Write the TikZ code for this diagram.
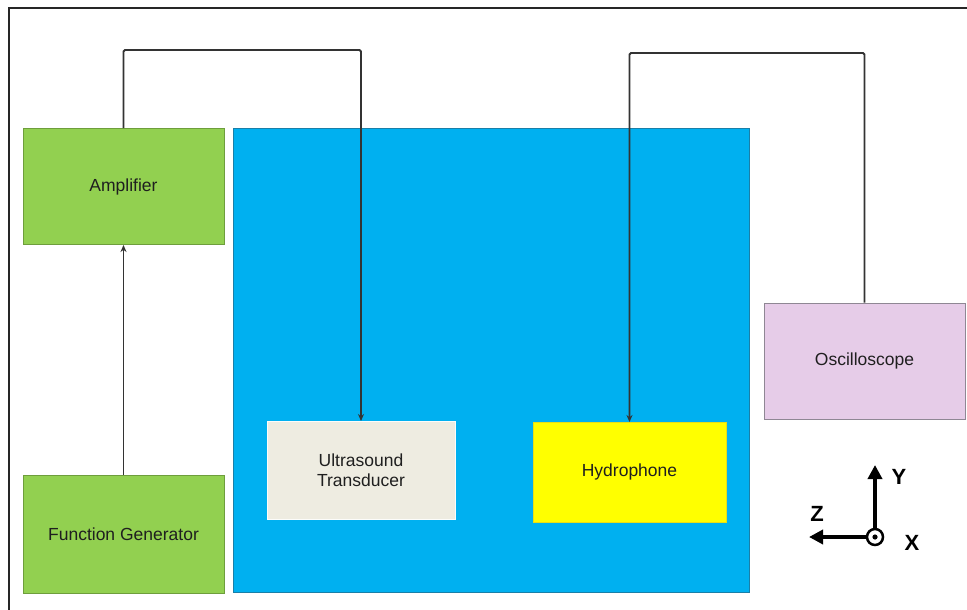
\documentclass[tikz,border=0pt]{standalone}
\usepackage{fontspec}
\setmainfont{Liberation Sans}
\usetikzlibrary{arrows.meta}
\definecolor{boxgreen}{HTML}{92D050}
\definecolor{boxgreenedge}{HTML}{6E9E3C}
\definecolor{tankblue}{HTML}{00B0F0}
\definecolor{tankedge}{HTML}{1A7FA8}
\definecolor{transfill}{HTML}{EEECE1}
\definecolor{hydfill}{HTML}{FFFF00}
\definecolor{oscfill}{HTML}{E6CCE8}
\definecolor{oscedge}{HTML}{8F8794}
\definecolor{wirecol}{HTML}{333333}
\begin{document}
\begin{tikzpicture}[x=1pt,y=-1pt,
  box/.style={rectangle, inner sep=0pt, line width=1pt, align=center,
    font=\fontsize{17.5}{20}\selectfont, text=black!88},
  wire/.style={draw=wirecol, line width=1.8pt, rounded corners=1.5pt,
    -{Stealth[length=7pt,width=6pt]}},
  axis/.style={line width=4pt, -{Triangle[length=14pt,width=14pt]}},
  axlabel/.style={font=\bfseries\fontsize{22}{24}\selectfont, inner sep=0pt}]
\useasboundingbox (0,0) rectangle (967,610);
\fill[white] (0,0) rectangle (967,610);
% frame
\draw[line width=2pt, black!85] (9,612) -- (9,8) -- (969,8);
% tank
\node[box, fill=tankblue, draw=tankedge, minimum width=516pt, minimum height=464pt] (tank) at (491,360) {};
% boxes
\node[box, fill=boxgreen, draw=boxgreenedge, minimum width=201pt, minimum height=116pt] (amp) at (123.5,186.5) {Amplifier};
\node[box, fill=boxgreen, draw=boxgreenedge, minimum width=201pt, minimum height=118pt] (fg) at (123.5,534) {Function Generator};
\node[box, fill=oscfill, draw=oscedge, minimum width=201pt, minimum height=116pt] (osc) at (864.5,361) {Oscilloscope};
% wires
\coordinate (top1) at (240,50);
\coordinate (top2) at (750,53);
\draw[wire] (amp.north) |- (top1) -| (361,421);
\draw[wire] (osc.north) |- (top2) -| (629.5,422);
\draw[wire] (fg.north) -- (amp.south);
% inner boxes
\node[box, fill=transfill, draw=white!85!transfill, minimum width=188pt, minimum height=98pt] (ut) at (361,470) {Ultrasound\\Transducer};
\node[box, fill=hydfill, draw=yellow!90!black, minimum width=193pt, minimum height=100pt] (hyd) at (629.5,472) {Hydrophone};
% axes
\coordinate (o) at (875,537);
\draw[line width=2.5pt] (o) circle (8pt);
\fill (o) circle (2.6pt);
\draw[axis] (875,528) -- (875,465);
\draw[axis] (866,537) -- (809,537);
\node[axlabel] (ly) at (899,477) {Y};
\node[axlabel] (lz) at (817,514) {Z};
\node[axlabel] (lx) at (912,543) {X};
\end{tikzpicture}
\end{document}
